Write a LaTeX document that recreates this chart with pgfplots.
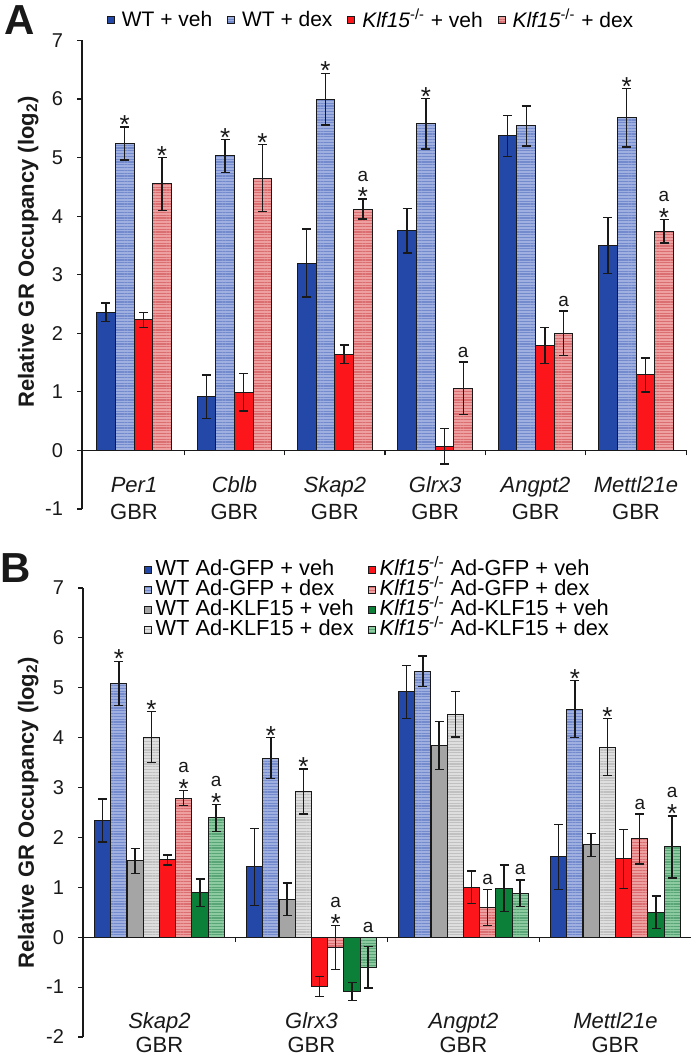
\documentclass[border=0pt]{standalone}
\usepackage{fontspec}
\setmainfont{Liberation Sans}
\usepackage{pgfplots}
\pgfplotsset{compat=1.18}
\usetikzlibrary{patterns.meta}

\definecolor{cWv}{RGB}{35,72,168}
\definecolor{cWd}{RGB}{158,175,224}
\definecolor{cWdl}{RGB}{115,138,205}
\definecolor{cKv}{RGB}{252,22,28}
\definecolor{cKd}{RGB}{238,160,160}
\definecolor{cKdl}{RGB}{218,110,113}
\definecolor{cGv}{RGB}{165,165,165}
\definecolor{cGd}{RGB}{222,222,222}
\definecolor{cGdl}{RGB}{192,192,192}
\definecolor{cNv}{RGB}{12,128,56}
\definecolor{cNd}{RGB}{140,202,160}
\definecolor{cNdl}{RGB}{90,165,120}
\definecolor{ink}{RGB}{25,25,25}

\pgfplotsset{
  sqleg/.style={legend image code/.code={\draw[##1, line width=0.4pt] (0pt,-1.75pt) rectangle (3.5pt,1.75pt);}},
  veh/.style={fill=#1, draw=ink, line width=0.5pt},
  dex/.style 2 args={fill=#1, draw=ink, line width=0.5pt,
     postaction={pattern={Lines[angle=0,distance=1.4pt,line width=0.55pt]}, pattern color=#2}},
  eb/.style={error bars/.cd, y dir=both, y explicit,
     error bar style={line width=0.7pt, ink},
     error mark options={rotate=90, mark size=2.25pt, line width=0.7pt, ink}},
  common/.style={
     scale only axis, anchor=south west, clip=false,
     axis x line=middle, axis y line=left,
     axis line style={-, line width=0.6pt, ink},
     tick align=outside, major tick length=2.5pt,
     tick style={line width=0.6pt, ink},
     xticklabels={},
     /pgf/number format/assume math mode=true,
     yticklabel style={font=\fontsize{10}{12}\selectfont, text=ink, xshift=-3.5pt},
     every axis y label/.style={rotate=90, anchor=center, font=\fontsize{11}{13}\selectfont\bfseries, text=ink},
     legend cell align=left,
  },
}
\tikzset{
  stn/.style={anchor=base, inner sep=0pt, font=\fontsize{13}{13}\selectfont, yshift=-3.3pt, text=ink},
  an/.style={anchor=base, inner sep=0pt, font=\fontsize{9.5}{9.5}\selectfont, yshift=2.5pt, text=ink},
  asn/.style={anchor=base, inner sep=0pt, font=\fontsize{9.5}{9.5}\selectfont, yshift=9pt, text=ink},
  gene/.style={anchor=base, inner sep=0pt, font=\fontsize{11}{13}\selectfont\itshape, text=ink},
  gbr/.style={anchor=base, inner sep=0pt, font=\fontsize{11}{13}\selectfont, text=ink},
}

\begin{document}
\begin{tikzpicture}
\useasboundingbox (0,0) rectangle (346.5pt,529pt);
\node[anchor=base west, inner sep=0pt, font=\fontsize{21}{21}\selectfont\bfseries, text=ink] at (2pt,511.5pt) {A};
\node[anchor=base west, inner sep=0pt, font=\fontsize{21}{21}\selectfont\bfseries, text=ink] at (0pt,237.5pt) {B};

% ---------------- Panel A ----------------
\begin{axis}[common,
  at={(41pt,274.5pt)}, width=302.5pt, height=234.25pt,
  xmin=-0.518, xmax=5.508, ymin=-1, ymax=7,
  xtick={0.5,1.5,2.5,3.5,4.5,5.5}, ytick={-1,0,1,2,3,4,5,6,7},
  ylabel={Relative GR Occupancy (log\textsubscript{2})},
  ylabel style={at={(rel axis cs:-0.089,0.549)}},
  legend columns=4,
  legend style={draw=none, fill=none, inner sep=0pt, outer sep=0pt,
     at={(0.0413,1.0437)}, anchor=west, font=\fontsize{10.5}{12}\selectfont,
     /tikz/every even column/.append style={column sep=5.5pt}},
]
\addplot[ybar, bar width=0.186, bar shift=0pt, veh=cWv, sqleg, eb]
 table[x=x, y=y, y error=e, row sep=\\] {x y e\\ -0.279 2.36 0.16\\ 0.721 0.92 0.37\\ 1.721 3.20 0.58\\ 2.721 3.75 0.38\\ 3.721 5.37 0.35\\ 4.721 3.50 0.48\\};
\addlegendentry{\hspace{1.5pt}WT + veh}
\addplot[ybar, bar width=0.186, bar shift=0pt, dex={cWd}{cWdl}, sqleg, eb]
 table[x=x, y=y, y error=e, row sep=\\] {x y e\\ -0.093 5.24 0.28\\ 0.907 5.03 0.28\\ 1.907 6.00 0.44\\ 2.907 5.58 0.43\\ 3.907 5.54 0.34\\ 4.907 5.68 0.50\\};
\addlegendentry{\hspace{1.5pt}WT + dex}
\addplot[ybar, bar width=0.186, bar shift=0pt, veh=cKv, sqleg, eb]
 table[x=x, y=y, y error=e, row sep=\\] {x y e\\ 0.093 2.23 0.13\\ 1.093 0.99 0.32\\ 2.093 1.64 0.16\\ 3.093 0.07 0.30\\ 4.093 1.79 0.31\\ 5.093 1.29 0.29\\};
\addlegendentry{\hspace{1.5pt}\textit{Klf15}\textsuperscript{-/-} + veh}
\addplot[ybar, bar width=0.186, bar shift=0pt, dex={cKd}{cKdl}, sqleg, eb]
 table[x=x, y=y, y error=e, row sep=\\] {x y e\\ 0.279 4.55 0.45\\ 1.279 4.65 0.57\\ 2.279 4.12 0.17\\ 3.279 1.06 0.45\\ 4.279 2.00 0.38\\ 5.279 3.74 0.20\\};
\addlegendentry{\hspace{1.5pt}\textit{Klf15}\textsuperscript{-/-} + dex}

% significance marks
\node[stn] at (axis cs:-0.093,5.52) {*};
\node[stn] at (axis cs:0.907,5.31) {*};
\node[stn] at (axis cs:1.907,6.44) {*};
\node[stn] at (axis cs:2.907,6.01) {*};
\node[stn] at (axis cs:4.907,6.18) {*};
\node[stn] at (axis cs:0.279,5.00) {*};
\node[stn] at (axis cs:1.279,5.22) {*};
\node[stn] at (axis cs:2.279,4.29) {*};
\node[asn] at (axis cs:2.279,4.29) {a};
\node[an]  at (axis cs:3.279,1.51) {a};
\node[an]  at (axis cs:4.279,2.38) {a};
\node[stn] at (axis cs:5.279,3.94) {*};
\node[asn] at (axis cs:5.279,3.94) {a};

% category labels
\node[gene] at (axis cs:0,-0.717) {Per1};
\node[gene] at (axis cs:1,-0.717) {Cblb};
\node[gene] at (axis cs:2,-0.717) {Skap2};
\node[gene] at (axis cs:3,-0.717) {Glrx3};
\node[gene] at (axis cs:4,-0.717) {Angpt2};
\node[gene] at (axis cs:5,-0.717) {Mettl21e};
\node[gbr] at (axis cs:0,-1.178) {GBR};
\node[gbr] at (axis cs:1,-1.178) {GBR};
\node[gbr] at (axis cs:2,-1.178) {GBR};
\node[gbr] at (axis cs:3,-1.178) {GBR};
\node[gbr] at (axis cs:4,-1.178) {GBR};
\node[gbr] at (axis cs:5,-1.178) {GBR};
\end{axis}

% ---------------- Panel B ----------------
\begin{axis}[common,
  at={(41.5pt,10.5pt)}, width=304pt, height=224.5pt,
  xmin=-0.503, xmax=3.497, ymin=-2, ymax=7,
  xtick={0.5,1.5,2.5,3.5}, ytick={-2,-1,0,1,2,3,4,5,6,7},
  ylabel={Relative GR Occupancy (log\textsubscript{2})},
  ylabel style={at={(rel axis cs:-0.09,0.50)}},
  legend columns=2,
  legend style={draw=none, fill=none, inner sep=0pt, outer sep=0pt,
     at={(0.1,1.062)}, anchor=north west, font=\fontsize{10.9}{11}\selectfont,
     row sep=0pt,
     nodes={inner ysep=0pt, text height=7.8pt, text depth=2.2pt},
     /tikz/every even column/.append style={column sep=5pt}},
]
\addplot[ybar, bar width=0.1066, bar shift=0pt, veh=cWv, sqleg, eb]
 table[x=x, y=y, y error=e, row sep=\\] {x y e\\ -0.373 2.34 0.43\\ 0.627 1.41 0.77\\ 1.627 4.92 0.53\\ 2.627 1.61 0.65\\};
\addlegendentry{WT Ad-GFP + veh}
\addplot[ybar, bar width=0.1066, bar shift=0pt, veh=cKv, sqleg, eb]
 table[x=x, y=y, y error=e, row sep=\\] {x y e\\ 0.053 1.55 0.10\\ 1.053 -0.99 0.20\\ 2.053 1.00 0.33\\ 3.053 1.57 0.59\\};
\addlegendentry{\textit{Klf15}\textsuperscript{-/-} Ad-GFP + veh}
\addplot[ybar, bar width=0.1066, bar shift=0pt, dex={cWd}{cWdl}, sqleg, eb]
 table[x=x, y=y, y error=e, row sep=\\] {x y e\\ -0.267 5.09 0.44\\ 0.733 3.59 0.41\\ 1.733 5.33 0.31\\ 2.733 4.57 0.57\\};
\addlegendentry{WT Ad-GFP + dex}
\addplot[ybar, bar width=0.1066, bar shift=0pt, dex={cKd}{cKdl}, sqleg, eb]
 table[x=x, y=y, y error=e, row sep=\\] {x y e\\ 0.160 2.79 0.15\\ 1.160 -0.21 0.44\\ 2.160 0.60 0.36\\ 3.160 1.97 0.50\\};
\addlegendentry{\textit{Klf15}\textsuperscript{-/-} Ad-GFP + dex}
\addplot[ybar, bar width=0.1066, bar shift=0pt, veh=cGv, sqleg, eb]
 table[x=x, y=y, y error=e, row sep=\\] {x y e\\ -0.160 1.53 0.25\\ 0.840 0.76 0.33\\ 1.840 3.84 0.48\\ 2.840 1.85 0.23\\};
\addlegendentry{WT Ad-KLF15 + veh}
\addplot[ybar, bar width=0.1066, bar shift=0pt, veh=cNv, sqleg, eb]
 table[x=x, y=y, y error=e, row sep=\\] {x y e\\ 0.267 0.89 0.28\\ 1.267 -1.09 0.18\\ 2.267 0.98 0.47\\ 3.267 0.50 0.33\\};
\addlegendentry{\textit{Klf15}\textsuperscript{-/-} Ad-KLF15 + veh}
\addplot[ybar, bar width=0.1066, bar shift=0pt, dex={cGd}{cGdl}, sqleg, eb]
 table[x=x, y=y, y error=e, row sep=\\] {x y e\\ -0.053 4.01 0.51\\ 0.947 2.92 0.45\\ 1.947 4.47 0.46\\ 2.947 3.81 0.57\\};
\addlegendentry{WT Ad-KLF15 + dex}
\addplot[ybar, bar width=0.1066, bar shift=0pt, dex={cNd}{cNdl}, sqleg, eb]
 table[x=x, y=y, y error=e, row sep=\\] {x y e\\ 0.373 2.39 0.27\\ 1.373 -0.60 0.42\\ 2.373 0.88 0.27\\ 3.373 1.81 0.62\\};
\addlegendentry{\textit{Klf15}\textsuperscript{-/-} Ad-KLF15 + dex}

% significance marks
\node[stn] at (axis cs:-0.267,5.53) {*};
\node[stn] at (axis cs:0.733,4.00) {*};
\node[stn] at (axis cs:2.733,5.14) {*};
\node[stn] at (axis cs:-0.053,4.52) {*};
\node[stn] at (axis cs:0.947,3.37) {*};
\node[stn] at (axis cs:2.947,4.38) {*};
\node[stn] at (axis cs:0.160,2.94) {*};
\node[asn] at (axis cs:0.160,2.94) {a};
\node[stn] at (axis cs:1.160,0.23) {*};
\node[asn] at (axis cs:1.160,0.23) {a};
\node[an]  at (axis cs:2.160,0.96) {a};
\node[an]  at (axis cs:3.160,2.47) {a};
\node[stn] at (axis cs:0.373,2.66) {*};
\node[asn] at (axis cs:0.373,2.66) {a};
\node[an]  at (axis cs:1.373,0.00) {a};
\node[an]  at (axis cs:2.373,1.15) {a};
\node[stn] at (axis cs:3.373,2.43) {*};
\node[asn] at (axis cs:3.373,2.43) {a};

% category labels
\node[gene] at (axis cs:0,-1.82) {Skap2};
\node[gene] at (axis cs:1,-1.82) {Glrx3};
\node[gene] at (axis cs:2,-1.82) {Angpt2};
\node[gene] at (axis cs:3,-1.82) {Mettl21e};
\node[gbr] at (axis cs:0,-2.32) {GBR};
\node[gbr] at (axis cs:1,-2.32) {GBR};
\node[gbr] at (axis cs:2,-2.32) {GBR};
\node[gbr] at (axis cs:3,-2.32) {GBR};
\end{axis}
\end{tikzpicture}
\end{document}
